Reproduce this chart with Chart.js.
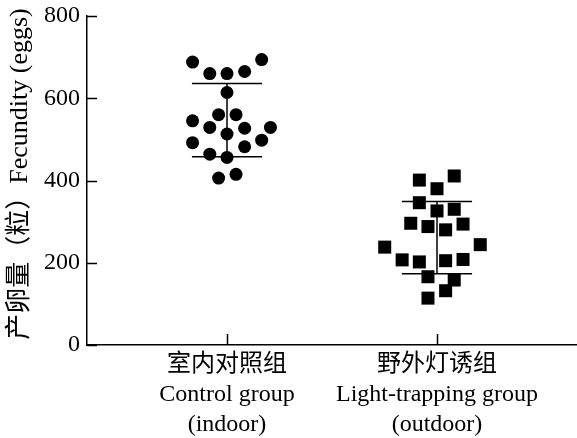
<!DOCTYPE html>
<html>
<head>
<meta charset="utf-8">
<script src="https://cdn.jsdelivr.net/npm/chart.js@4/dist/chart.umd.min.js"></script>
<style>
  body { margin: 0; background: #fff; }
  canvas { display: block; }
</style>
</head>
<body>
<canvas id="chart" width="577" height="438"></canvas>
<script>
// group positions on the x axis and their labels (3 lines each)
const groupPos = [1, 2];
const groupLabels = [
  ["室内对照组", "Control group", "(indoor)"],
  ["野外灯诱组", "Light-trapping group", "(outdoor)"]
];

// control group (indoor): jitter offset from group centre, eggs per female
const controlJitter = [-0.164, -0.082, 0, 0.084, 0.165, 0, -0.04, 0.043, -0.164, -0.082,
                       0, 0.084, 0.207, -0.164, -0.082, 0, 0.084, 0.165, -0.04, 0.043];
const controlEggs = [688, 660, 660, 665, 694, 614, 560, 560, 545, 529,
                     513, 527, 529, 492, 464, 456, 482, 498, 406, 415];

// light-trapping group (outdoor)
const lightJitter = [-0.084, 0.082, 0, -0.084, 0, 0.082, -0.125, -0.043, 0.041, 0.124,
                     -0.249, 0.206, -0.166, -0.084, 0.041, 0.124, -0.043, 0.082, 0.041, -0.043];
const lightEggs = [401, 411, 380, 346, 326, 330, 296, 288, 280, 294,
                   238, 244, 207, 202, 205, 208, 166, 158, 132, 114];

// mean +/- SD shown as error bars
const groupMeans = [547, 261];
const groupSD = [89, 88];

const yTicks = [0, 200, 400, 600, 800];

const capHalf = 0.167;
const serif = "'Liberation Serif', 'Times New Roman', 'Noto Sans CJK SC', serif";

function toPoints(center, jitter, values) {
  return values.map((v, i) => ({ x: center + jitter[i], y: v }));
}

const errorSets = [];
groupPos.forEach((g, i) => {
  const lo = groupMeans[i] - groupSD[i];
  const hi = groupMeans[i] + groupSD[i];
  const segs = [
    [{ x: g, y: lo }, { x: g, y: hi }],
    [{ x: g - capHalf, y: hi }, { x: g + capHalf, y: hi }],
    [{ x: g - capHalf, y: lo }, { x: g + capHalf, y: lo }]
  ];
  segs.forEach(seg => errorSets.push({
    type: "line",
    data: seg,
    borderColor: "#000",
    borderWidth: 1.5,
    pointRadius: 0,
    fill: false,
    order: 2
  }));
});

// inward tick marks, like the original figure
const innerTicks = {
  id: "innerTicks",
  afterDatasetsDraw(chart) {
    const { ctx, chartArea, scales } = chart;
    ctx.save();
    ctx.strokeStyle = "#000";
    ctx.lineWidth = 1.5;
    ctx.beginPath();
    scales.y.ticks.forEach(t => {
      const py = Math.round(scales.y.getPixelForValue(t.value)) + 0.5;
      ctx.moveTo(chartArea.left, py);
      ctx.lineTo(chartArea.left + 10, py);
    });
    scales.x.ticks.forEach(t => {
      const px = Math.round(scales.x.getPixelForValue(t.value)) + 0.5;
      ctx.moveTo(px, chartArea.bottom);
      ctx.lineTo(px, chartArea.bottom - 11);
    });
    ctx.stroke();
    ctx.restore();
  }
};

new Chart(document.getElementById("chart"), {
  type: "scatter",
  data: {
    datasets: [
      {
        data: toPoints(groupPos[0], controlJitter, controlEggs),
        pointStyle: "circle",
        pointRadius: 6.5,
        backgroundColor: "#000",
        borderWidth: 0,
        order: 1
      },
      {
        data: toPoints(groupPos[1], lightJitter, lightEggs),
        pointStyle: "rect",
        pointRadius: 9.2,
        backgroundColor: "#000",
        borderWidth: 0,
        order: 1
      },
      ...errorSets
    ]
  },
  options: {
    responsive: false,
    animation: false,
    layout: { autoPadding: false, padding: { top: 16, right: 0, left: 0, bottom: 0 } },
    plugins: { legend: { display: false }, tooltip: { enabled: false } },
    scales: {
      x: {
        type: "linear",
        min: 1 / 3,
        max: 8 / 3,
        afterBuildTicks: s => { s.ticks = groupPos.map(v => ({ value: v })); },
        afterFit: s => { s.height = 93; s.paddingLeft = 0; s.paddingRight = 0; },
        grid: { display: false, drawTicks: false },
        border: { display: true, color: "#000", width: 1.5 },
        ticks: {
          color: "#000",
          padding: 5,
          maxRotation: 0,
          font: { family: serif, size: 24, lineHeight: 1.25 },
          callback: (v, i) => groupLabels[i]
        }
      },
      y: {
        min: 0,
        max: 800,
        afterBuildTicks: s => { s.ticks = yTicks.map(v => ({ value: v })); },
        afterFit: s => { s.width = 87; s.paddingTop = 0; s.paddingBottom = 0; },
        grid: { display: false, drawTicks: false },
        border: { display: true, color: "#000", width: 1.5 },
        ticks: {
          color: "#000",
          padding: 7,
          font: { family: serif, size: 24 }
        },
        title: {
          display: true,
          text: "\u2002产卵量（粒）Fecundity (eggs)",
          color: "#000",
          padding: { top: 5, bottom: 0 },
          font: { family: serif, size: 26 }
        }
      }
    }
  },
  plugins: [innerTicks]
});
</script>
</body>
</html>
